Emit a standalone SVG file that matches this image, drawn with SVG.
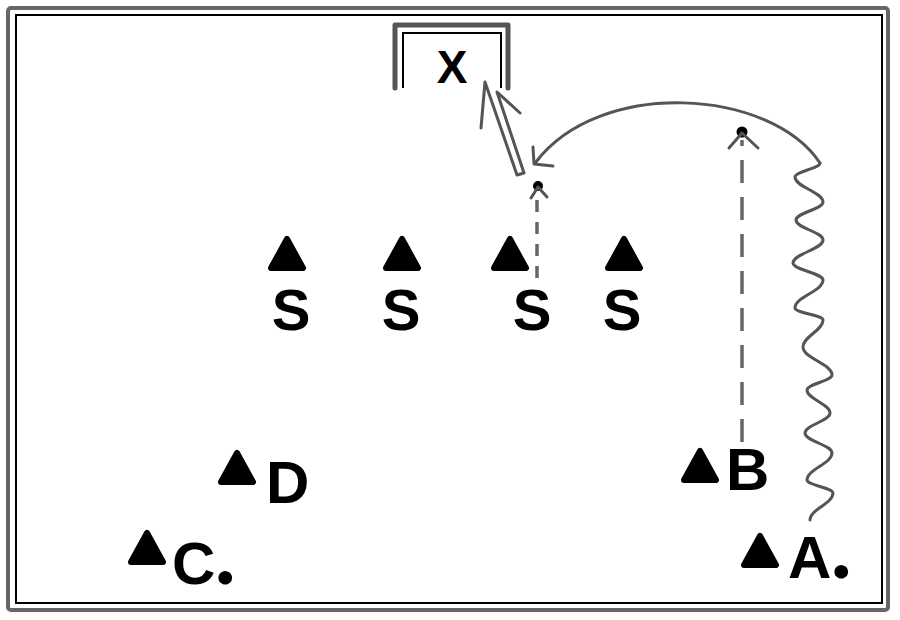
<svg xmlns="http://www.w3.org/2000/svg" width="900" height="620" viewBox="0 0 900 620">
<style>
.lbl{font-family:"Liberation Sans",Arial,sans-serif;font-weight:bold;fill:#000}
.dot{font-family:Lato,"Liberation Sans",sans-serif;font-weight:900}
.gray{fill:none;stroke:#555;stroke-width:3;stroke-linecap:round;stroke-linejoin:round}
.dash{fill:none;stroke:#666;stroke-width:3.5}
.tri{fill:#000;stroke:#000;stroke-width:6;stroke-linejoin:round}
</style>
<defs>
<path id="triangle" class="tri" d="M0,-32 L16,-3 L-16,-3 Z"/>
</defs>
<rect width="900" height="620" fill="#fff"/>
<g id="frame">
<rect x="8" y="8" width="880" height="602" rx="3" fill="none" stroke="#666" stroke-width="4"/>
<rect x="16" y="15" width="866" height="588" fill="none" stroke="#000" stroke-width="2"/>
</g>
<g id="goal">
<path d="M395,88 V25 H508 V88" fill="none" stroke="#555" stroke-width="5" stroke-linejoin="round" stroke-linecap="round"/>
<path d="M403,88 V33 H501 V88" fill="none" stroke="#000" stroke-width="2"/>
<text class="lbl" x="452" y="83" font-size="46" text-anchor="middle">X</text>
</g>
<g id="S1"><use href="#triangle" x="287" y="271"/><text class="lbl" x="291" y="330" font-size="58" text-anchor="middle">S</text></g>
<g id="S2"><use href="#triangle" x="402" y="271"/><text class="lbl" x="401" y="330" font-size="58" text-anchor="middle">S</text></g>
<g id="S3"><use href="#triangle" x="510" y="271"/><text class="lbl" x="532" y="330" font-size="58" text-anchor="middle">S</text></g>
<g id="S4"><use href="#triangle" x="624" y="271"/><text class="lbl" x="622" y="330" font-size="58" text-anchor="middle">S</text></g>
<g id="D"><use href="#triangle" x="237" y="485"/><text class="lbl" x="266" y="503" font-size="60">D</text></g>
<g id="C"><use href="#triangle" x="147" y="565"/><text class="lbl" x="172" y="584" font-size="60">C<tspan class="dot" font-size="84">.</tspan></text></g>
<g id="B"><use href="#triangle" x="700" y="483"/><text class="lbl" x="726" y="490" font-size="60">B</text></g>
<g id="A"><use href="#triangle" x="760" y="568"/><text class="lbl" x="788" y="578" font-size="60">A<tspan class="dot" font-size="84">.</tspan></text></g>
<g id="connectors">
<!-- shot into goal -->
<path class="gray" d="M517,175 L485,82 M524,173 L497,92 M485,82 L481,128 M497,92 L520,113 M517,175 L524,173"/>
<!-- S3 dashed run -->
<line class="dash" x1="537" y1="278" x2="537" y2="192" stroke-dasharray="12 10"/>
<circle cx="538" cy="186" r="5" fill="#000"/>
<path class="gray" d="M531,198 L538,187 L547,197"/>
<!-- B dashed run -->
<line class="dash" x1="742" y1="442" x2="742" y2="140" stroke-dasharray="23 14"/>
<circle cx="742" cy="132" r="5.5" fill="#000"/>
<path class="gray" d="M729,148 L742,133 L758,148"/>
<!-- A dribble -->
<path class="gray" stroke-width="3.5" d="M820,163 C820,168.6 795,171.4 795,177 C795,187 823,192 823,202 C823,209.2 796,212.8 796,220 C796,228 823,232 823,240 C823,249.2 793,253.8 793,263 C793,269.8 823,273.2 823,280 C823,291.2 795,296.8 795,308 C795,312.8 823,315.2 823,320 C823,330.8 803,336.2 803,347 C803,358.2 832,363.8 832,375 C832,381 807,384 807,390 C807,399.2 830,403.8 830,413 C830,421 805,425 805,433 C805,441 832,445 832,453 C832,463.8 807,469.2 807,480 C807,485.2 833,487.8 833,493 C833,503.8 810,509.2 810,520"/>
<!-- pass arc -->
<path class="gray" d="M820,163 C770,88 600,78 536,162"/>
<path class="gray" d="M533,147 L534,164 L553,166"/>
</g>
</svg>
